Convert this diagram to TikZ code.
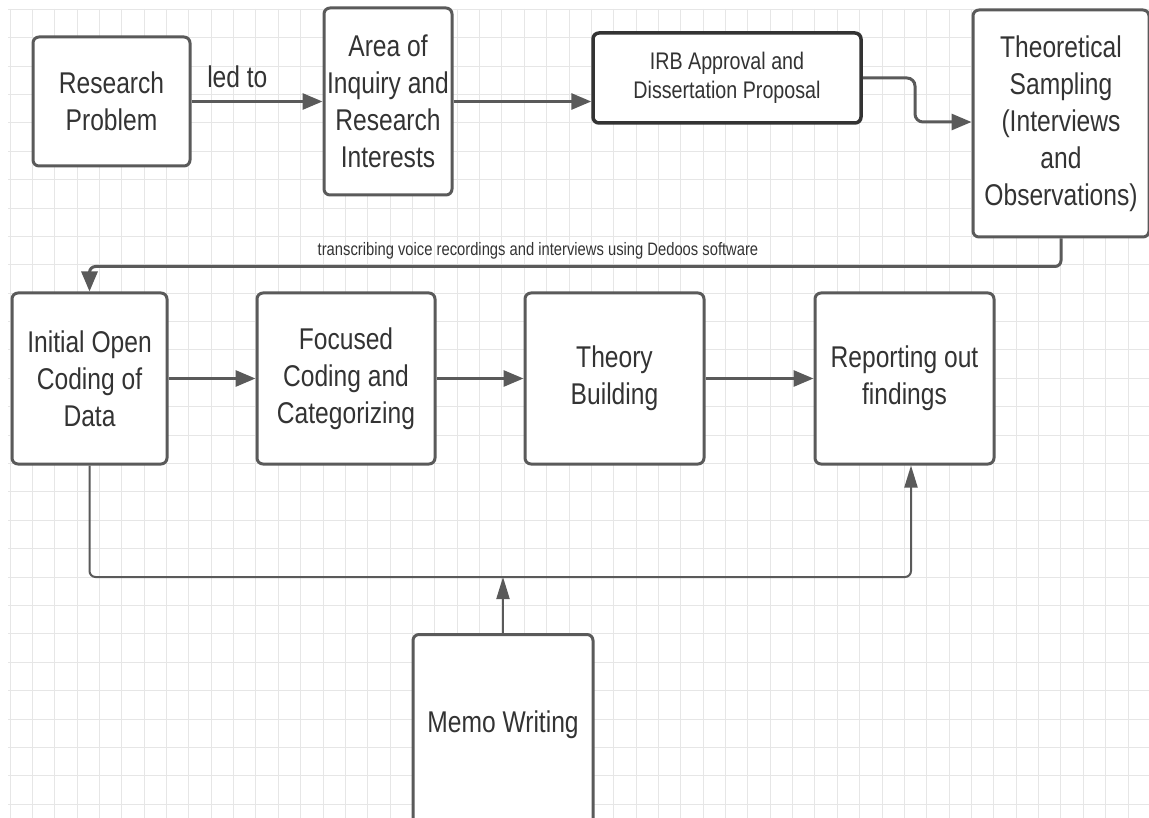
\documentclass[tikz,border=0pt]{standalone}
\usepackage{fontspec}
\setmainfont{Liberation Sans}[FakeStretch=0.82]
\usetikzlibrary{arrows.meta,positioning,calc}
\definecolor{edge}{HTML}{5A5A5A}
\definecolor{darkedge}{HTML}{333333}
\definecolor{ink}{HTML}{333333}
\definecolor{gridc}{HTML}{E6E6E6}

\begin{document}
\begin{tikzpicture}[x=1pt,y=-1pt,
  box/.style={draw=edge,line width=3pt,rounded corners=6pt,fill=white,align=center,text=ink,inner sep=0pt,font=\fontsize{30}{37}\selectfont},
  arr/.style={edge,line width=3pt,-{Triangle[length=20pt,width=16pt]}},
  arrthin/.style={edge,line width=2pt,rounded corners=6pt,-{Triangle[length=22pt,width=13pt]}},
  gridline/.style={gridc,line width=1pt},
]
  \useasboundingbox (0,0) rectangle (1149,818);
  \clip (0,0) rectangle (1149,818);
  \fill[white] (0,0) rectangle (1149,818);
  % background grid
  \foreach \i in {0,...,51}
    \draw[gridline] ({10+22.36*\i},9) -- ({10+22.36*\i},818);
  \foreach \j in {0,...,28}
    \draw[gridline] (8,{9.3+28.39*\j}) -- (1149,{9.3+28.39*\j});

  % top row
  \node[box,minimum width=157pt,minimum height=129pt] (rp) at (111.5,101.5) {Research\\Problem};
  \node[box,minimum width=128pt,minimum height=187pt] (aoi) at (388,101.5) {Area of\\Inquiry and\\Research\\Interests};
  \node[box,draw=darkedge,line width=3.5pt,minimum width=268pt,minimum height=90pt,font=\fontsize{24}{29}\selectfont] (irb) at (727,78) {IRB Approval and\\Dissertation Proposal};
  \node[box,minimum width=176pt,minimum height=227pt] (ts) at (1061,123.5) {Theoretical\\Sampling\\(Interviews\\and\\Observations)};

  \draw[arr] (rp) -- node[pos=0.35,above=9pt,text=ink,font=\fontsize{30}{37}\selectfont] (ledto) {led to} (aoi);
  \draw[arr] (aoi.east) -- (aoi.east -| irb.west);
  \coordinate (irbturn) at (915,122);
  \draw[arr,rounded corners=8pt] (irb.east) -| (irbturn) -- (irbturn -| ts.west);

  % bottom row
  \node[box,minimum width=155pt,minimum height=171pt] (ioc) at (89.5,378.5) {Initial Open\\Coding of\\Data};
  \node[box,minimum width=178pt,minimum height=171pt] (fcc) at (346,378.5) {Focused\\Coding and\\Categorizing};
  \node[box,minimum width=179pt,minimum height=171pt] (tb) at (614.5,378.5) {Theory\\Building};
  \node[box,minimum width=179pt,minimum height=171pt] (rof) at (904.5,378.5) {Reporting out\\findings};

  \node[text=ink,font=\fontsize{18}{21}\selectfont] (trans) at (538,251) {transcribing voice recordings and interviews using Dedoos software};
  \draw[arr,rounded corners=6pt] (ts.south) -- ++(0,28) -| (ioc.north);

  \draw[arr] (ioc) -- (fcc);
  \draw[arr] (fcc) -- (tb);
  \draw[arr] (tb) -- (rof);

  % memo loop
  \node[box,anchor=north,minimum width=180pt,minimum height=200pt,text depth=26pt] (mw) at (503,633) {Memo Writing};
  \coordinate (memojoin) at (503,577);
  \draw[arrthin] (ioc.south) |- (memojoin) -| ([xshift=6.5pt]rof.south);
  \draw[arrthin,rounded corners=0pt] (mw.north) -- (memojoin);
\end{tikzpicture}
\end{document}
